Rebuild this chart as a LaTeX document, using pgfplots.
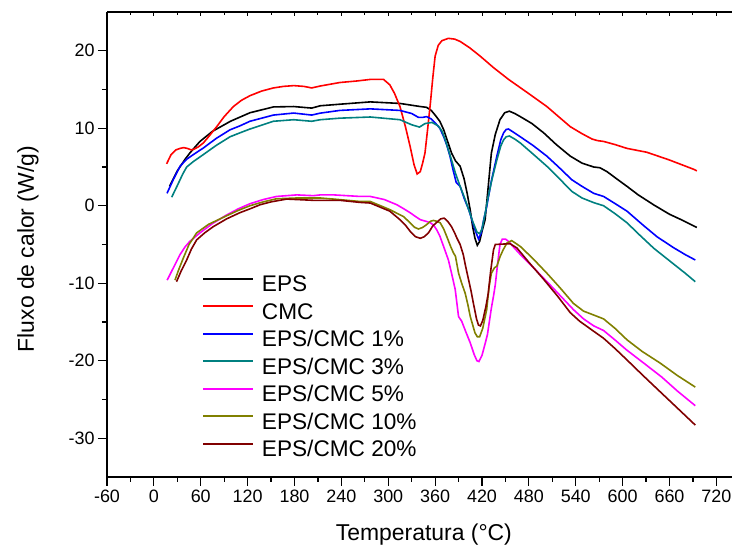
\documentclass[border=0pt]{standalone}
\usepackage{pgfplots}
\pgfplotsset{compat=1.18}
\usepackage{fontspec}
\setmainfont{Liberation Sans}
\definecolor{cteal}{RGB}{0,128,128}
\definecolor{colive}{RGB}{128,128,0}
\definecolor{cmaroon}{RGB}{128,0,0}
\definecolor{cmag}{RGB}{255,0,255}
\begin{document}
\begin{tikzpicture}
\begin{axis}[name=ax,
  scale only axis, width=625bp, height=465bp,
  xmin=-60, xmax=740, ymin=-35, ymax=25,
  axis x line*=bottom, axis y line*=left,
  xtick={-60,0,...,720}, minor x tick num=1,
  ytick={-30,-20,...,20}, minor y tick num=1,
  tick align=outside, major tick length=9bp, minor tick length=5bp,
  axis line style={line width=1.2bp},
  every tick/.style={black, line width=1.2bp},
  /pgf/number format/assume math mode=true,
  ticklabel style={font=\fontsize{18}{21}\selectfont},
  xlabel={Temperatura (°C)}, ylabel={Fluxo de calor (W/g)},
  label style={font=\fontsize{23}{27}\selectfont},
  x label style={at={(axis description cs:0.507,-0.1247)}, anchor=center},
  y label style={at={(axis description cs:-0.1264,0.49)}, anchor=center},
  legend style={at={(axis description cs:0.152,0.432)}, anchor=north west,
    draw=none, fill=none, inner sep=0pt, row sep=7.5bp,
    font=\fontsize{22.7}{26}\selectfont,
    nodes={inner sep=0pt, text height=15.5bp, text depth=4.5bp},
    /tikz/every odd column/.append style={column sep=8bp}},
  legend cell align=left,
  legend image code/.code={\draw[#1, line width=1.8bp] (0bp,7.5bp) -- (50bp,7.5bp);},
  every axis plot/.append style={line width=1.6bp},
]
\addplot[black] coordinates {(20,2.5)(30,4.5)(40,6.0)(46,6.8)(59,8.3)(75,9.6)(98,10.9)(123,12.0)(153,12.75)(179,12.8)(202,12.6)(213,12.9)(238,13.1)(277,13.4)(315,13.2)(341,12.8)(349,12.7)(355,12.3)(360,11.7)(366,10.9)(371,9.8)(376,8.3)(381,6.8)(386,5.8)(392,5.1)(397,3.5)(401,1.6)(405,-0.6)(408,-2.7)(411,-4.2)(414,-5.1)(417,-4.6)(420,-3.3)(424,-1.8)(428,2.5)(432,6.8)(437,9.2)(443,11.1)(449,12.0)(455,12.2)(462,11.9)(469,11.5)(484,10.6)(499,9.4)(515,7.9)(533,6.4)(548,5.5)(563,5.0)(571,4.9)(580,4.4)(592,3.5)(605.6,2.5)(620,1.4)(640,0.1)(660,-1.1)(675,-1.8)(691,-2.6)(695,-2.8)};
\addlegendentry{EPS}
\addplot[red] coordinates {(16.3,5.4)(22,6.6)(28,7.2)(33.5,7.4)(38,7.5)(42.8,7.4)(48,7.2)(51.4,7.3)(57,7.6)(63.3,8.1)(70,8.9)(80.4,10.2)(90,11.5)(101.8,12.8)(112,13.6)(123,14.2)(138,14.8)(153,15.2)(166,15.4)(179,15.5)(192,15.4)(202,15.2)(213,15.45)(238,15.9)(260,16.1)(277,16.3)(294,16.3)(302,15.6)(308,14.5)(315,12.8)(322,10.2)(328,7.65)(333,5.3)(337,4.1)(341,4.4)(344,5.5)(347,6.8)(350,9.5)(354,13.3)(357,16.5)(360,19.3)(364,20.7)(368.7,21.3)(377,21.6)(385,21.5)(392,21.2)(404,20.4)(417.7,19.3)(435,17.8)(454,16.3)(478,14.6)(503,12.8)(518,11.5)(533,10.2)(548,9.3)(561,8.6)(568,8.4)(575.6,8.3)(590,7.9)(605.6,7.4)(631,6.9)(660,5.9)(691,4.7)(695,4.5)};
\addlegendentry{CMC}
\addplot[blue] coordinates {(16.8,1.6)(25,3.4)(33.5,5.1)(42,6.0)(50.5,6.6)(63.3,7.45)(80,8.7)(97.5,9.8)(110,10.3)(123,10.9)(153,11.7)(179,11.96)(202,11.7)(213,11.95)(238,12.3)(277,12.5)(315,12.3)(330,11.9)(338.7,11.4)(344,11.4)(349,11.5)(355,11.2)(360,10.7)(366,10.0)(371,8.9)(375,7.8)(379,6.4)(383,4.6)(387,3.0)(392,2.5)(397,1.0)(403,-0.5)(408,-2.1)(411,-3.1)(415.6,-4.3)(419,-3.5)(422,-1.9)(426,-0.1)(432,3.2)(439,6.4)(444,8.5)(447.6,9.4)(451,9.85)(454,9.9)(460,9.5)(469,8.9)(485,7.8)(503,6.4)(518,5.0)(535,3.35)(548,2.5)(563,1.6)(575.6,1.2)(590,0.3)(605.6,-0.7)(625,-2.4)(644,-4.0)(665,-5.4)(680,-6.3)(693,-7.0)};
\addlegendentry{EPS/CMC 1\%}
\addplot[cteal] coordinates {(22.8,1.1)(30,2.6)(37,4.1)(42,5.0)(50.5,5.7)(63.3,6.6)(80,7.8)(97.5,8.9)(110,9.4)(123,9.9)(153,10.9)(179,11.1)(202,10.9)(213,11.1)(238,11.3)(277,11.45)(315,11.1)(330,10.45)(340,10.15)(347,10.6)(356,10.75)(364,10.3)(369,9.6)(373,8.5)(377,7.2)(381,5.9)(386,4.2)(392,2.5)(397,1.2)(403,-0.5)(408,-2.0)(413.5,-3.4)(417,-3.6)(420,-3.0)(424,-1.0)(428,1.2)(433,3.5)(439,5.9)(444,7.7)(447.6,8.5)(451,8.9)(455,9.0)(462,8.6)(469,8.1)(485,6.7)(503,5.1)(518,3.6)(535,1.85)(548,1.0)(563,0.4)(575.6,0.0)(590,-1.0)(605.6,-2.2)(622,-3.8)(640,-5.5)(660,-7.1)(680,-8.7)(693,-9.8)};
\addlegendentry{EPS/CMC 3\%}
\addplot[cmag] coordinates {(17,-9.6)(25,-8.0)(33.5,-6.3)(40,-5.3)(46,-4.6)(59,-3.5)(75,-2.3)(93,-1.2)(108,-0.4)(123,0.26)(140,0.8)(157,1.2)(183,1.4)(204,1.3)(213,1.4)(230,1.4)(264,1.2)(277,1.2)(295,0.8)(311,0.13)(320,-0.4)(328,-0.9)(335,-1.4)(341,-1.8)(348,-2.0)(354,-2.2)(358,-2.5)(362,-3.1)(366,-3.9)(371,-5.3)(377,-7.0)(381,-8.7)(385.7,-10.8)(389,-13.5)(390,-14.3)(394,-14.9)(399,-16.2)(405,-17.7)(410,-19.2)(413.5,-20.0)(416,-20.1)(420,-19.3)(424,-17.8)(427,-16.6)(432,-13.2)(435,-11.5)(437,-10.2)(440,-7.5)(443,-5.0)(446,-4.3)(450,-4.3)(454,-4.6)(460,-5.3)(470,-6.4)(485,-7.9)(507,-10.2)(522,-11.8)(537,-13.4)(550,-14.6)(563,-15.5)(575.6,-16.1)(590,-17.3)(605,-18.6)(627,-20.3)(650,-22.1)(670,-23.9)(693,-25.8)};
\addlegendentry{EPS/CMC 5\%}
\addplot[colive] coordinates {(27,-9.6)(32,-8.2)(37.7,-6.75)(45,-5.0)(54.8,-3.5)(70,-2.4)(93,-1.3)(108,-0.6)(123,0.0)(140,0.5)(157,0.9)(183,1.0)(213,1.0)(230,0.86)(264,0.55)(277,0.55)(302,-0.5)(319.5,-1.4)(328,-2.2)(334,-2.8)(338.7,-3.0)(344,-2.8)(349,-2.45)(354,-2.0)(358,-1.9)(362,-2.0)(366.5,-2.2)(371,-3.0)(375,-4.0)(380,-5.3)(383.5,-6.1)(386,-6.5)(390,-8.7)(394,-10.0)(398.5,-11.3)(402,-12.8)(405,-14.3)(411,-16.4)(414,-16.9)(417,-16.9)(421,-15.8)(426,-13.4)(429,-10.5)(432,-8.7)(436,-8.0)(439,-7.8)(443,-6.6)(447,-5.7)(452,-4.8)(458,-4.5)(469,-5.25)(485,-6.8)(503,-8.7)(520,-10.6)(537,-12.6)(550,-13.6)(563,-14.1)(575.6,-14.6)(590,-15.8)(605.6,-17.3)(625,-18.8)(648,-20.3)(670,-21.9)(693,-23.4)};
\addlegendentry{EPS/CMC 10\%}
\addplot[cmaroon] coordinates {(29,-9.8)(35,-8.4)(42,-7.0)(48,-5.6)(54.8,-4.4)(65,-3.5)(76,-2.7)(93,-1.7)(110,-0.9)(123,-0.4)(136,0.13)(150,0.5)(170,0.86)(204,0.7)(238,0.7)(264,0.43)(277,0.35)(302,-0.7)(315,-1.8)(322,-2.5)(328,-3.3)(335,-4.0)(341,-4.2)(346,-4.0)(351.5,-3.5)(357,-2.6)(362,-2.15)(367,-1.7)(371.6,-1.6)(376,-2.0)(381,-2.7)(385,-3.5)(388,-4.2)(392,-5.0)(396,-6.3)(399,-7.8)(402.7,-9.5)(406,-11.0)(409,-12.6)(413,-14.6)(415.5,-15.4)(418,-15.5)(421,-14.8)(425,-13.0)(428,-11.3)(431,-8.5)(434.7,-5.7)(437,-5.0)(446,-4.95)(456,-4.9)(464.7,-5.45)(480,-7.3)(499,-9.5)(517,-11.7)(533,-13.8)(545,-14.9)(563,-16.2)(575.6,-17.1)(590,-18.4)(605.6,-19.9)(625,-21.8)(648,-24.0)(670,-26.1)(693,-28.3)};
\addlegendentry{EPS/CMC 20\%}
\end{axis}
\begin{axis}[at={(ax.south west)}, anchor=south west,
  scale only axis, width=625bp, height=465bp,
  xmin=-60, xmax=740, ymin=-35, ymax=25,
  axis x line*=top, axis y line=none,
  xtick={-60,0,...,720}, minor x tick num=1, xticklabels={},
  tick align=inside, major tick length=4bp, minor tick length=3bp,
  axis line style={line width=1.2bp},
  every tick/.style={black, line width=1bp},
]
\end{axis}
\pgfresetboundingbox
\path[use as bounding box] ([xshift=-107bp,yshift=-72bp]ax.south west) rectangle ([xshift=2bp,yshift=12bp]ax.north east);
\end{tikzpicture}
\end{document}
